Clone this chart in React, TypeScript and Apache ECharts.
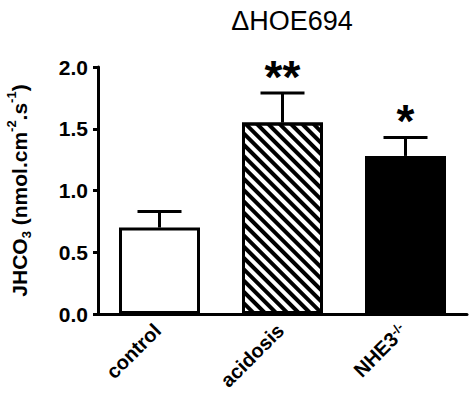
import React, { useEffect, useRef } from "react";
import * as echarts from "echarts";

const categories = ["control", "acidosis", "NHE3-/-"];
const means = [0.7, 1.55, 1.28];
const upperErrors = [0.83, 1.79, 1.43];
const significance = ["", "**", "*"];
const yTicks = [0, 0.5, 1.0, 1.5, 2.0];

export default function App() {
  const ref = useRef<HTMLDivElement>(null);
  useEffect(() => {
    if (!ref.current) return;
    const chart = echarts.init(ref.current, null, { renderer: "svg" });
    const barStyles = [
      { color: "#fff", borderColor: "#000", borderWidth: 3 },
      {
        color: "#fff",
        borderColor: "#000",
        borderWidth: 3,
        decal: {
          symbol: "rect",
          symbolSize: 1,
          color: "#000",
          dashArrayX: [1, 0],
          dashArrayY: [3.5, 4],
          rotation: Math.PI / 4,
        },
      },
      { color: "#000", borderColor: "#000", borderWidth: 3 },
    ];
    chart.setOption({
      animation: false,
      title: {
        text: "\u0394HOE694",
        left: 287,
        top: 2,
        textAlign: "center",
        textStyle: { fontFamily: "Liberation Sans, Arial", fontWeight: "normal", fontSize: 27, color: "#000" },
      },
      grid: { left: 98, right: 5, top: 67, bottom: 79, containLabel: false, outerBoundsMode: "none" },
      xAxis: {
        type: "category",
        data: categories,
        axisLine: { lineStyle: { color: "#000", width: 3 } },
        axisTick: { alignWithLabel: true, length: 5, lineStyle: { color: "#000", width: 3 } },
        axisLabel: {
          rotate: 45,
          margin: 11,
          padding: [0, 3, 0, 0],
          color: "#000",
          fontFamily: "Liberation Sans, Arial",
          fontWeight: "bold",
          fontSize: 20,
          formatter: (v: string) => (v === "NHE3-/-" ? "NHE3{sup|-/-}" : v),
          rich: {
            sup: { fontSize: 13, fontWeight: "bold", fontFamily: "Liberation Sans, Arial", color: "#000", verticalAlign: "top" },
          },
        },
      },
      yAxis: {
        type: "value",
        min: yTicks[0],
        max: yTicks[yTicks.length - 1],
        interval: 0.5,
        splitLine: { show: false },
        axisLine: { show: true, lineStyle: { color: "#000", width: 3 } },
        axisTick: { show: true, length: 5, lineStyle: { color: "#000", width: 3 } },
        axisLabel: {
          margin: 10,
          color: "#000",
          fontFamily: "Liberation Sans, Arial",
          fontWeight: "bold",
          fontSize: 21,
          formatter: (v: number) => v.toFixed(1),
        },
        name: "JHCO{sub|3} (nmol.cm{sup|-2}.s{sup|-1})",
        nameLocation: "middle",
        nameGap: 65,
        nameTextStyle: {
          color: "#000",
          fontFamily: "Liberation Sans, Arial",
          fontWeight: "bold",
          fontSize: 21,
          lineHeight: 28,
          rich: {
            sub: { fontSize: 13, fontWeight: "bold", fontFamily: "Liberation Sans, Arial", color: "#000", verticalAlign: "bottom", lineHeight: 28 },
            sup: { fontSize: 13, fontWeight: "bold", fontFamily: "Liberation Sans, Arial", color: "#000", verticalAlign: "top", lineHeight: 28 },
          },
        },
      },
      series: [
        {
          type: "bar",
          barWidth: 81,
          data: means.map((v, i) => ({ value: v, itemStyle: barStyles[i] })),
        },
        {
          type: "custom",
          data: means.map((v, i) => [i, v, upperErrors[i]]),
          renderItem: (params: any, api: any) => {
            const i = api.value(0);
            const base = api.coord([i, api.value(1)]);
            const top = api.coord([i, api.value(2)]);
            const half = 22;
            const stroke = { stroke: "#000", lineWidth: 3 };
            return {
              type: "group",
              children: [
                { type: "line", shape: { x1: base[0], y1: base[1], x2: top[0], y2: top[1] }, style: stroke },
                { type: "line", shape: { x1: top[0] - half, y1: top[1], x2: top[0] + half, y2: top[1] }, style: stroke },
                {
                  type: "text",
                  x: top[0],
                  y: top[1] - 16,
                  style: {
                    text: significance[i],
                    fill: "#000",
                    font: "bold 46px 'Liberation Sans', Arial",
                    textAlign: "center",
                    textVerticalAlign: "middle",
                  },
                },
              ],
            };
          },
          z: 5,
        },
      ],
    });
    return () => chart.dispose();
  }, []);
  return <div ref={ref} style={{ width: 472, height: 393, position: "absolute", left: 0, top: 0, background: "#fff" }} />;
}
